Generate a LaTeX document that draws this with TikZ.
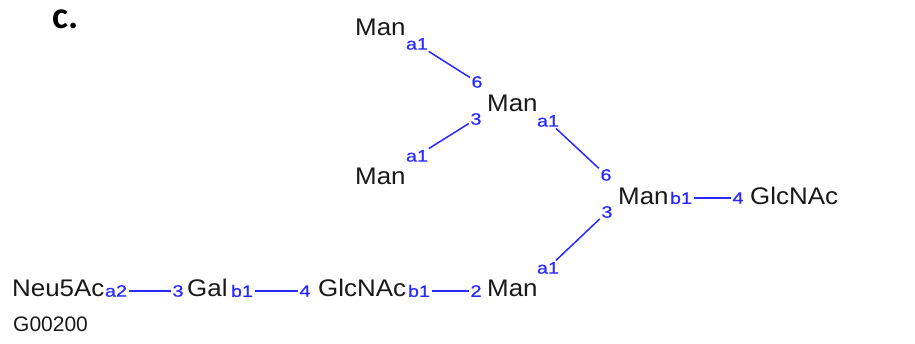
\documentclass[tikz,border=0pt]{standalone}
\usepackage{fontspec}
\newfontfamily\glyfont[FakeStretch=1.08]{Liberation Sans}
\newfontfamily\linkfont[FakeStretch=1.2,FakeBold=0.6]{Liberation Sans}
\newfontfamily\idfont{Liberation Sans}
\newfontfamily\panelfont{Carlito}
\definecolor{linkblue}{RGB}{40,40,255}
\definecolor{textgray}{RGB}{25,25,25}
\begin{document}
\begin{tikzpicture}[x=1pt,y=-1pt,
  sugar/.style={anchor=base west, inner sep=0pt, font=\glyfont\fontsize{24}{24}\selectfont, text=textgray},
  link/.style={inner sep=1.5pt, font=\linkfont\fontsize{16.5}{16.5}\selectfont, text=linkblue},
  bond/.style={draw=linkblue, line width=1.5pt}]
\fill[white] (0,0) rectangle (915,344);
\useasboundingbox (0,0) rectangle (915,344);

% panel letter and id
\node[anchor=base west, inner sep=0pt, font=\panelfont\bfseries\fontsize{38}{38}\selectfont, text=black] (panel) at (52,29) {c.};
\node[anchor=base west, inner sep=0pt, font=\idfont\fontsize{21}{21}\selectfont, text=textgray] (gid) at (13,332) {G00200};

% residues
\node[sugar] (mTop) at (355,36) {Man};
\node[sugar] (mMid) at (487,112) {Man};
\node[sugar] (mLL) at (355,185) {Man};
\node[sugar] (mR) at (618,205) {Man};
\node[sugar] (gR) at (750,205) {GlcNAc};
\node[sugar] (neu) at (12,297) {Neu5Ac};
\node[sugar] (gal) at (187,297) {Gal};
\node[sugar] (glc) at (318,297) {GlcNAc};
\node[sugar] (mB) at (487,297) {Man};

% linkage labels
\node[link] (tA1) at (417,44) {a1};
\node[link] (t6) at (477,82) {6};
\node[link] (m3) at (476,119) {3};
\node[link] (llA1) at (417,156) {a1};
\node[link] (mA1) at (548,121) {a1};
\node[link] (r6) at (606,175) {6};
\node[link] (r3) at (607,212) {3};
\node[link] (bA1) at (548,268) {a1};
\node[link] (rB1) at (681,198) {b1};
\node[link] (r4) at (738,198) {4};
\node[link] (neuA2) at (116,291) {a2};
\node[link] (gal3) at (178,291) {3};
\node[link] (galB1) at (242,291) {b1};
\node[link] (glc4) at (305,291) {4};
\node[link] (glcB1) at (419,291) {b1};
\node[link] (mb2) at (476,291) {2};

% bonds
\draw[bond] (tA1) -- (t6);
\draw[bond] (m3) -- (llA1);
\draw[bond] (mA1) -- (r6);
\draw[bond] (r3) -- (bA1);
\draw[bond] (rB1) -- (r4);
\draw[bond] (neuA2) -- (gal3);
\draw[bond] (galB1) -- (glc4);
\draw[bond] (glcB1) -- (mb2);
\end{tikzpicture}
\end{document}
